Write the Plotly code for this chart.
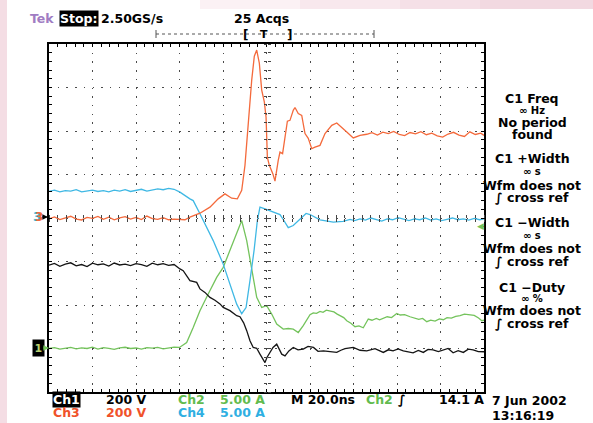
import plotly.graph_objects as go

# ---------------- data (read from the scope screen) ----------------
# time in ns relative to trigger (20 ns/div, 10 div)
T_RANGE = [-100, 100]

# Ch1 (black) 200 V/div, ground at -3 div
CH1_SCALE, CH1_OFFSET = 200.0, -3.0
t_ch1 = [-100, -97.5, -95, -92.5, -90, -87.5, -85, -82.5, -80, -77.5, -75, -72.5,
         -70, -67.5, -65, -62.5, -60, -57.5, -55, -52.5, -50, -47.5, -45, -42.5,
         -39.8, -38.3, -35.2, -32.1, -30.6, -28.3, -26.0, -23.7, -21.4, -19.9, -16.8,
         -13.7, -12.2, -10.5, -9.1, -7.6, -6.1, -4.5, -3.0, -1.5, -0.7, 0.2, 1.6, 3.0,
         4.7, 7.0, 8.5, 10.3, 12.3, 14.5, 16.9, 19.1, 21.6, 23.7, 26.2, 29.2, 32.3,
         34.2, 36.1, 39.9, 43.0, 46.1, 49.9, 53.7, 56.0, 58.2, 60.5, 62.9, 65.0, 67.4,
         69.8, 72.1, 74.3, 76.6, 79.0, 81.3, 83.5, 85.8, 88.1, 90.5, 92.8, 95.0, 97.4, 100]
v_ch1 = [383, 391, 378, 388, 394, 380, 386, 377, 392, 385, 389, 379,
         393, 384, 388, 381, 390, 386, 378, 392, 385, 390, 382, 386,
         366, 358, 312, 304, 274, 258, 235, 222, 205, 189, 174,
         151, 146, 118, 82, 36, 5, 1, -26, -49, -65, -41, -18, 5,
         20, -26, -34, -11, 5, -6, -3, 10, 5, -13, -11, -15, -18,
         -8, -1, 5, -8, -11, -1, -18, -6, -11, -2, -11, -16, -20,
         -9, -18, -4, -6, -14, -7, 0, -20, -10, -18, -3, -6, -14, -15]

# Ch2 (green) 5 A/div, ground at -3 div
CH2_SCALE, CH2_OFFSET = 5.0, -3.0
t_ch2 = [-100, -97.5, -95, -92.5, -90, -87.5, -85, -82.5, -80, -77.5, -75, -72.5,
         -70, -67.5, -65, -62.5, -60, -57.5, -55, -52.5, -50, -47.5, -45, -42.5, -40,
         -36.7, -33.7, -30.6, -26.8, -22.9, -19.9, -16.8, -13.7, -11.4, -9.1, -6.8,
         -4.5, -2.2, 0.1, 2.4, 4.7, 7.7, 10.0, 12.3, 14.6, 16.9, 18.5, 20.0, 21.5, 23,
         24.6, 26, 27.5, 29.2, 31, 32.5, 33.8, 35.5, 36.9, 38.8, 40.7, 42.5, 44.5, 45.5,
         46.8, 48.5, 50.5, 52, 53.7, 55.5, 57.5, 59.9, 61.5, 63.5, 66.0, 68, 70, 71.8,
         73.7, 75.5, 77.5, 79.5, 81.3, 83, 85, 87, 89.0, 91, 93.6, 95.5, 97.5, 99, 100]
i_ch2 = [0.0, 0.1, -0.08, 0.05, 0.12, -0.05, 0.08, 0.0, 0.15, -0.06, 0.1, 0.02,
         -0.1, 0.08, 0.14, 0.0, 0.06, -0.08, 0.1, 0.04, 0.12, -0.04, 0.08, 0.15, 0.12,
         0.69, 2.42, 4.34, 6.27, 8.18, 9.33, 11.25, 13.18, 14.7, 12.4, 8.95,
         5.88, 4.72, 4.92, 3.96, 2.81, 2.23, 2.3, 2.23, 1.84, 2.62, 3.3, 3.88, 4.1, 4.05,
         4.26, 4.15, 4.4, 4.34, 4.2, 3.95, 3.77, 3.55, 3.19, 2.9, 2.5, 2.6, 2.38, 2.9,
         3.39, 3.25, 3.45, 3.3, 3.5, 3.65, 3.55, 4.03, 3.85, 3.9, 3.65, 3.5, 3.35, 3.45,
         3.08, 3.25, 3.15, 3.4, 3.31, 3.55, 3.5, 3.7, 3.77, 3.95, 3.88, 3.8, 3.5, 3.19, 3.25]

# Ch3 (orange) 200 V/div, ground at 0 div
CH3_SCALE, CH3_OFFSET = 200.0, 0.0
t_ch3 = [-100, -97.5, -95, -92.5, -90, -87.5, -85, -82.5, -80, -77.5, -75, -72.5,
         -70, -67.5, -65, -62.5, -60, -57.5, -55, -52.5, -50, -47.5, -45, -42.5, -40,
         -37.5, -35.2, -30.6, -26.0, -22.2, -19.1, -16.0, -13.4, -11.4, -9.9, -8.4,
         -6.8, -5.6, -4.5, -3.3, -2.2, -1.0, -0.2, 0.4, 1.3, 2.9, 3.9, 5.4, 6.2, 7.4,
         8.5, 9.6, 10.8, 12.3, 13.1, 14.6, 16.2, 17.7, 19.2, 20.8, 22.3, 24.6, 26.9,
         30.0, 32.3, 34.6, 36.9, 39.9, 43.0, 46.1, 48.5, 51, 53.5, 56, 58.5, 61, 63.5,
         66, 68.5, 71, 73.5, 76, 78.5, 81, 83.5, 86, 88.5, 91, 93.5, 96, 98.5, 100]
v_ch3 = [-4, 5, -7, 2, 8, -5, -9, 3, -2, 7, -6, 4,
         -8, 1, 6, -5, 3, -7, 9, -3, -6, 2, -8, -5, -7,
         -8, 4, 22, 50, 88, 111, 91, 88, 127, 242, 449,
         634, 744, 772, 712, 588, 534, 463, 279, 242, 204, 170, 265, 303, 296,
         372, 445, 449, 495, 508, 480, 472, 388, 366, 319, 326, 334, 388,
         426, 437, 418, 395, 368, 380, 385, 392, 381, 395, 388, 398, 384, 379,
         393, 387, 397, 383, 390, 378, 372, 386, 394, 381, 375, 396, 384, 390, 380]

# Ch4 (cyan) 5 A/div, ground at 0 div
CH4_SCALE, CH4_OFFSET = 5.0, 0.0
t_ch4 = [-100, -97.5, -95, -92.5, -90, -87.5, -85, -82.5, -80, -77.5, -75, -72.5,
         -70, -67.5, -65, -62.5, -60, -57.5, -55, -52.5, -50, -47.5, -45, -42.5,
         -39.8, -35.2, -33.7, -30.6, -29.1, -24.5, -19.9, -16.8, -13.7, -11.4, -9.4,
         -7.6, -5.7, -4.2, -3.0, -0.7, 3.1, 6.2, 7.7, 10.0, 12.3, 16.2, 18.2, 20.0,
         24.6, 30.7, 35.2, 38.4, 40.5, 43, 45.5, 48, 50.5, 53, 55.5, 58, 60.5, 63,
         65.5, 68, 70.5, 73, 75.5, 78, 80.5, 83, 85.5, 88, 90.5, 93, 95.5, 98, 100]
i_ch4 = [3.05, 3.2, 3.0, 3.15, 3.1, 3.25, 3.0, 3.1, 3.2, 3.05, 3.15, 3.0,
         3.2, 3.1, 3.25, 3.05, 3.15, 3.3, 3.1, 3.2, 3.35, 3.25, 3.4, 3.3,
         2.97, 2.2, 2.0, 0.48, -0.29, -2.6, -5.3, -7.6, -9.9, -11.0, -10.3,
         -7.2, -3.7, -0.29, 1.24, 1.06, 0.67, 0.4, -0.17, -1.1, -0.86, 0.09, 0.52, 0.4,
         -0.21, -0.48, -0.4, -0.17, -0.3, -0.1, -0.25, 0.0, -0.2, -0.35, -0.1, -0.2,
         0.05, -0.15, -0.3, -0.1, -0.2, 0.0, -0.25, -0.1, -0.3, -0.15, 0.0, -0.2,
         -0.1, -0.25, -0.05, -0.2, -0.1]

# ---------------- text ----------------
header_left = ["Tek", "Stop:", "2.50GS/s"]
header_mid = "25 Acqs"
meas_lines = ["C1 Freq", "∞ Hz", "No period", "found",
              "C1 +Width", "∞ s", "Wfm does not", "∫ cross ref",
              "C1 −Width", "∞ s", "Wfm does not", "∫ cross ref",
              "C1 −Duty", "∞ %", "Wfm does not", "∫ cross ref"]
meas_y = [98, 110, 122, 134, 158, 171, 185, 197, 222, 235, 248, 261, 287, 298, 310, 323]
row1 = ["Ch1", "200 V", "Ch2", "5.00 A", "M 20.0ns", "Ch2", "∫", "14.1 A"]
row2 = ["Ch3", "200 V", "Ch4", "5.00 A"]
date_txt, time_txt = "7 Jun 2002", "13:16:19"

# ---------------- colors ----------------
C_BLACK = "#151515"
C_GREEN = "#74c35c"
C_ORANGE = "#f46a3c"
C_CYAN = "#3fb8e4"
C_GREEN_TXT = "#62bb4e"
C_ORANGE_TXT = "#f0522a"
C_CYAN_TXT = "#2fafe2"

# ---------------- geometry ----------------
W_FIG, H_FIG = 593, 423
L, TOP, PW, PH = 49, 44, 435, 348
B = TOP + PH


def px(x):
    return (x - L) / PW


def py(y):
    return (B - y) / PH


def to_div(vals, scale, offset):
    return [v / scale + offset for v in vals]


fig = go.Figure()
fig.add_trace(go.Scatter(x=t_ch2, y=to_div(i_ch2, CH2_SCALE, CH2_OFFSET), mode="lines",
                         line=dict(color=C_GREEN, width=1.3), showlegend=False))
fig.add_trace(go.Scatter(x=t_ch1, y=to_div(v_ch1, CH1_SCALE, CH1_OFFSET), mode="lines",
                         line=dict(color=C_BLACK, width=1.3), showlegend=False))
fig.add_trace(go.Scatter(x=t_ch4, y=to_div(i_ch4, CH4_SCALE, CH4_OFFSET), mode="lines",
                         line=dict(color=C_CYAN, width=1.3), showlegend=False))
fig.add_trace(go.Scatter(x=t_ch3, y=to_div(v_ch3, CH3_SCALE, CH3_OFFSET), mode="lines",
                         line=dict(color=C_ORANGE, width=1.3), showlegend=False))
# empty traces that carry the centre crosshair axes
fig.add_trace(go.Scatter(x=[], y=[], xaxis="x2", yaxis="y2", showlegend=False))
fig.add_trace(go.Scatter(x=[], y=[], xaxis="x3", yaxis="y3", showlegend=False))

DOT = "1.5px,7.2px"
GRID = "#4a4a4a"
common = dict(showticklabels=False, zeroline=False, fixedrange=True)

fig.update_layout(
    width=W_FIG, height=H_FIG,
    margin=dict(l=L, r=W_FIG - L - PW, t=TOP, b=H_FIG - B, pad=0),
    paper_bgcolor="white", plot_bgcolor="white",
    xaxis=dict(range=T_RANGE, dtick=20, tick0=0, showgrid=True, gridcolor=GRID,
               griddash=DOT, gridwidth=1, ticks="inside", ticklen=3, tickcolor="black",
               showline=True, linecolor="black", linewidth=1.5, mirror="ticks",
               minor=dict(dtick=4, ticks="inside", ticklen=3, tickcolor="black", showgrid=False),
               **common),
    yaxis=dict(range=[-4, 4], dtick=1, tick0=0, showgrid=True, gridcolor=GRID,
               griddash=DOT, gridwidth=1, ticks="inside", ticklen=3, tickcolor="black",
               showline=True, linecolor="black", linewidth=1.5, mirror="ticks",
               minor=dict(dtick=0.2, ticks="inside", ticklen=3, tickcolor="black", showgrid=False),
               **common),
    xaxis2=dict(range=T_RANGE, overlaying="x", anchor="free", position=0.5, side="bottom",
                ticks="outside", ticklen=3, dtick=4, tick0=0, tickcolor="#444",
                showgrid=False, showline=False, **common),
    yaxis2=dict(range=[-4, 4], overlaying="y", anchor="free", position=0.5, side="left",
                ticks="outside", ticklen=3, dtick=0.2, tick0=0, tickcolor="#444",
                showgrid=False, showline=False, **common),
    xaxis3=dict(range=T_RANGE, overlaying="x", anchor="free", position=0.5, side="top",
                ticks="outside", ticklen=3, dtick=4, tick0=0, tickcolor="#444",
                showgrid=False, showline=False, **common),
    yaxis3=dict(range=[-4, 4], overlaying="y", anchor="free", position=0.5, side="right",
                ticks="outside", ticklen=3, dtick=0.2, tick0=0, tickcolor="#444",
                showgrid=False, showline=False, **common),
)

FONT = "DejaVu Sans"
anns = []


def ann(text, x, y, color="black", anchor="left", size=12.5, bg=None, weight="bold", pad=0):
    d = dict(text=text, x=px(x), y=py(y), xref="paper", yref="paper", xanchor=anchor,
             yanchor="middle", showarrow=False, borderpad=pad,
             font=dict(family=FONT, size=size, color=color, weight=weight))
    if bg:
        d["bgcolor"] = bg
    anns.append(d)


def marker_arrow(x_tip, y, color):
    anns.append(dict(text="", x=px(x_tip), y=py(y), xref="paper", yref="paper",
                     showarrow=True, ax=-7, ay=0, arrowhead=2, arrowsize=0.7,
                     arrowwidth=1.6, arrowcolor=color, standoff=0))


# header
ann(header_left[0], 29, 19, color="#a07cc3")
ann(header_left[1], 59, 19, color="white", bg="black")
ann(header_left[2], 100, 19)
ann(header_mid, 261, 19, anchor="center")
ann("[", 245, 35, anchor="center", size=12)
ann("T", 264, 35, anchor="center", size=11)
ann("]", 289, 35, anchor="center", size=12)

# measurement column
for txt, yy in zip(meas_lines, meas_y):
    ann(txt, 532, yy, anchor="center", size=10 if txt.startswith("∞") else 12.5)

# bottom rows
r1x = [52, 105, 177, 219, 290, 365, 397, 438]
r1c = ["white", "black", C_GREEN_TXT, C_GREEN_TXT, "black", C_GREEN_TXT, "black", "black"]
for i, (txt, xx, cc) in enumerate(zip(row1, r1x, r1c)):
    ann(txt, xx, 399.5, color=cc, bg="black" if i == 0 else None)
r2x = [52, 105, 177, 219]
r2c = [C_ORANGE_TXT, C_ORANGE_TXT, C_CYAN_TXT, C_CYAN_TXT]
for txt, xx, cc in zip(row2, r2x, r2c):
    ann(txt, xx, 412, color=cc)
ann(date_txt, 491, 400.5)
ann(time_txt, 491, 415.5)

# channel ground markers (left) and trigger level marker (right)
ann("3", 32, 217, color=C_CYAN, size=12)
ann("3", 33.5, 217, color=C_ORANGE, size=12)
marker_arrow(48, 217, "black")
ann("1", 32, 348, color="#b8d070", size=11, bg="black", pad=1.5)
marker_arrow(49, 348, C_GREEN)
ann("◀", 485, 225.5, color=C_GREEN, anchor="right", size=9)

fig.update_layout(annotations=anns)

# background & header record bar
shapes = [
    dict(type="rect", xref="paper", yref="paper", x0=px(0), x1=px(7), y0=py(423), y1=py(0),
         fillcolor="#f4dde4", line=dict(width=0), layer="below"),
]
for k, (x0, col) in enumerate([(200, "#fbf1f4"), (300, "#f8e8ed"), (400, "#f5e0e7"), (480, "#f2d9e1")]):
    shapes.append(dict(type="rect", xref="paper", yref="paper", x0=px(x0), x1=px(593),
                       y0=py(9), y1=py(0), fillcolor=col, line=dict(width=0), layer="below"))
shapes += [
    dict(type="line", xref="paper", yref="paper", x0=px(156), x1=px(374), y0=py(34), y1=py(34),
         line=dict(color="#555", width=1, dash="dot")),
    dict(type="line", xref="paper", yref="paper", x0=px(156), x1=px(156), y0=py(30), y1=py(38),
         line=dict(color="#555", width=1)),
    dict(type="line", xref="paper", yref="paper", x0=px(374), x1=px(374), y0=py(30), y1=py(38),
         line=dict(color="#555", width=1)),
]
fig.update_layout(shapes=shapes)

# the page body has a default 8px margin; remove it so the figure fills the window
fig.write_html("out.html", config={"displayModeBar": False},
               post_script="document.body.style.margin='0px';")
